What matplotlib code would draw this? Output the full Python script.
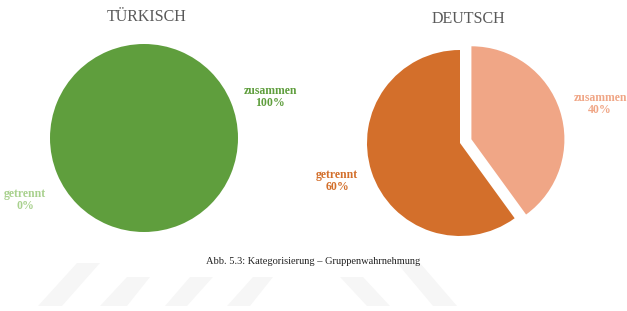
import matplotlib
matplotlib.use("Agg")
import matplotlib.pyplot as plt
from matplotlib.patches import Polygon

W, H = 627, 311

# data
categories = ["zusammen", "getrennt"]
tuerkisch = [100, 0]
deutsch = [40, 60]
titles = ["TÜRKISCH", "DEUTSCH"]
caption = "Abb. 5.3: Kategorisierung – Gruppenwahrnehmung"

GREEN = ["#5f9e3d", "#a9d18e"]
ORANGE = ["#f0a686", "#d36f2b"]

fig = plt.figure(figsize=(W / 100, H / 100), dpi=100)
ax = fig.add_axes([0, 0, 1, 1])


def py(y):
    return H - y


wp = dict(edgecolor="none", linewidth=0)

# left pie
ax.pie(tuerkisch, colors=GREEN, startangle=90, counterclock=False,
       center=(144, py(138)), radius=94, wedgeprops=wp, frame=True)
# right pie (explode is in data units here -> pixels)
ax.pie(deutsch, colors=ORANGE, startangle=90, counterclock=False,
       explode=[12, 0], center=(460, py(143)), radius=93, wedgeprops=wp,
       frame=True)

ax.set_xlim(0, W)
ax.set_ylim(0, H)
ax.set_aspect("auto")
ax.axis("off")

serif = ["Liberation Serif", "DejaVu Serif"]
ax.text(147, py(17), titles[0], ha="center", va="center", fontsize=11.5,
        color="#595959", family=serif)
ax.text(468, py(19), titles[1], ha="center", va="center", fontsize=11.5,
        color="#595959", family=serif)

lab = dict(ha="center", va="center", fontsize=8.5, fontweight="bold",
           family=serif, linespacing=1.05)
ax.text(270, py(97), f"{categories[0]}\n{tuerkisch[0]}%", color=GREEN[0], **lab)
ax.text(25, py(200), f"{categories[1]}\n{tuerkisch[1]}%", color=GREEN[1], **lab)
ax.text(337, py(181), f"{categories[1]}\n{deutsch[1]}%", color=ORANGE[1], **lab)
ax.text(600, py(104), f"{categories[0]}\n{deutsch[0]}%", color=ORANGE[0], **lab)

ax.text(313, py(261), caption, ha="center", va="center", fontsize=7.5,
        color="#222222", family=["Liberation Serif"])

# faint watermark stripes
stripes = [
    [(38, 306), (62, 306), (100, 263), (77, 263)],
    [(100, 306), (127, 306), (150, 277), (127, 277)],
    [(165, 306), (187, 306), (213, 277), (190, 277)],
    [(227, 306), (250, 306), (273, 277), (253, 277)],
    [(367, 306), (390, 306), (363, 277), (340, 277)],
    [(433, 306), (457, 306), (420, 263), (397, 263)],
]
for s in stripes:
    ax.add_patch(Polygon([(x, py(y)) for x, y in s], closed=True,
                         facecolor="#f6f6f6", edgecolor="none", zorder=0))

fig.savefig("out.png", dpi=100)
